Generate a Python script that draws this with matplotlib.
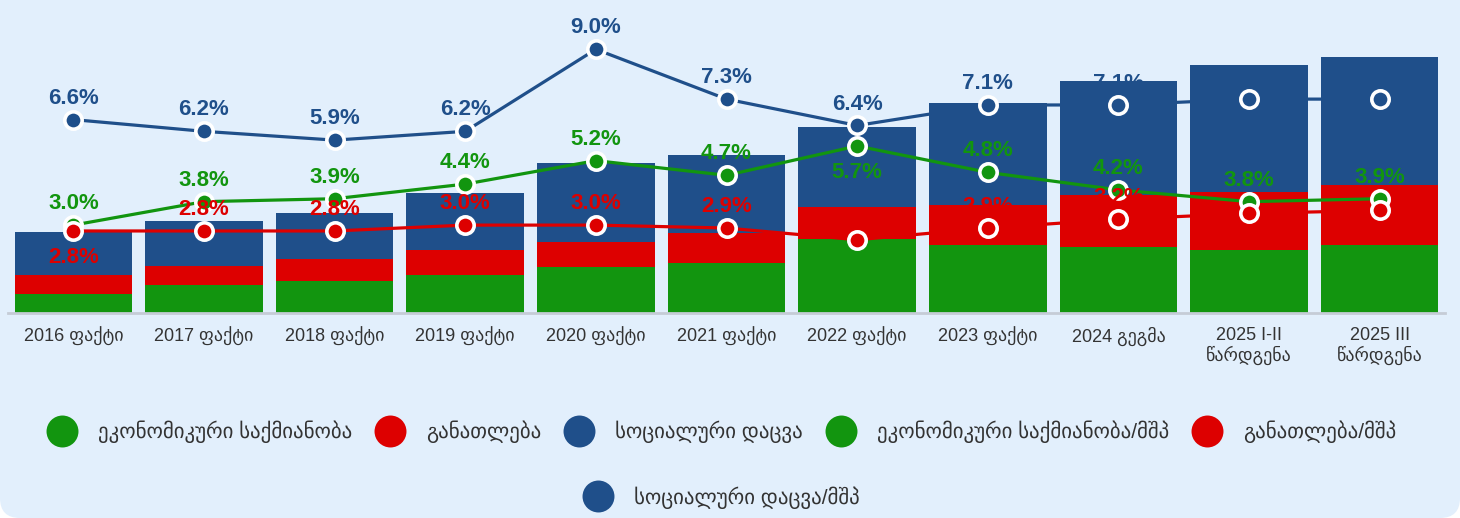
import numpy as np
import matplotlib
matplotlib.use('Agg')
from matplotlib import pyplot as plt
from matplotlib.lines import Line2D
from matplotlib.patches import FancyBboxPatch

plt.rcParams['font.family'] = ['Liberation Sans', 'DejaVu Sans']

# categories
years = ['2016 ფაქტი', '2017 ფაქტი', '2018 ფაქტი', '2019 ფაქტი', '2020 ფაქტი',
         '2021 ფაქტი', '2022 ფაქტი', '2023 ფაქტი', '2024 გეგმა',
         '2025 I-II\nწარდგენა', '2025 III\nწარდგენა']

# spending, mln GEL (stacked bars)
econ = np.array([990, 1410, 1620, 1920, 2330, 2540, 3770, 3460, 3360, 3250, 3460])
edu = np.array([940, 1020, 1130, 1330, 1330, 1540, 1640, 2050, 2660, 2970, 3070])
soc = np.array([2200, 2290, 2390, 2900, 4030, 4030, 4130, 5250, 5870, 6480, 6580])

# share of GDP, %
econ_gdp = [3.0, 3.8, 3.9, 4.4, 5.2, 4.7, 5.7, 4.8, 4.2, 3.8, 3.9]
edu_gdp = [2.8, 2.8, 2.8, 3.0, 3.0, 2.9, 2.5, 2.9, 3.2, 3.4, 3.5]
soc_gdp = [6.6, 6.2, 5.9, 6.2, 9.0, 7.3, 6.4, 7.1, 7.1, 7.3, 7.3]

names = ['ეკონომიკური საქმიანობა', 'განათლება', 'სოციალური დაცვა',
         'ეკონომიკური საქმიანობა/მშპ', 'განათლება/მშპ', 'სოციალური დაცვა/მშპ']

GREEN = '#12950f'
RED = '#dd0000'
BLUE = '#1f4f8a'
TXT = '#333333'

fig = plt.figure(figsize=(14.6, 5.18), dpi=100)
fig.patch.set_facecolor('white')
bg = FancyBboxPatch((0, 0), 14.6, 6.0, boxstyle='round,pad=0,rounding_size=0.2',
                    transform=fig.dpi_scale_trans, facecolor='#e2effc',
                    edgecolor='none', zorder=-10)
fig.add_artist(bg)

ax = fig.add_axes([8 / 1460, 205 / 518, 1437 / 1460, 293 / 518])
ax.set_facecolor('none')
x = np.arange(len(years))
ax.bar(x, econ, width=0.9, color=GREEN, zorder=2)
ax.bar(x, edu, width=0.9, bottom=econ, color=RED, zorder=2)
ax.bar(x, soc, width=0.9, bottom=econ + edu, color=BLUE, zorder=2)
ax.set_xlim(-0.5, len(years) - 0.5)
ax.set_ylim(0, 15000)
ax.set_yticks([])
ax.set_xticks(x, years, fontsize=13, color=TXT, linespacing=1.15)
ax.tick_params(axis='x', length=0, pad=10)
for s in ['left', 'right', 'top']:
    ax.spines[s].set_visible(False)
ax.spines['bottom'].set_color('#c5ccd6')
ax.spines['bottom'].set_linewidth(2)

ax2 = ax.twinx()
ax2.set_ylim(0, 10)
ax2.set_yticks([])
for s in ax2.spines.values():
    s.set_visible(False)

# which labels sit under their point, and which get dropped for overlap
below = {'econ': {6}, 'edu': {0}, 'soc': set()}
hidden = {'econ': set(), 'edu': {9, 10}, 'soc': set()}

series = [('econ', econ_gdp, GREEN), ('edu', edu_gdp, RED), ('soc', soc_gdp, BLUE)]
for key, vals, c in series:
    ax2.plot(x, vals, color=c, lw=2.3, marker='o', ms=12.5, mfc=c, mec='white',
             mew=2.6, zorder=3, clip_on=False)
for key, vals, c in series:
    for i, v in enumerate(vals):
        if i in hidden[key]:
            continue
        dy = -23 if i in below[key] else 11.5
        ax2.annotate(f'{v:.1f}%', (x[i], v), xytext=(0, dy), textcoords='offset points',
                     ha='center', va='baseline', fontsize=16, fontweight='bold',
                     color=c, zorder=5)

colors = [GREEN, RED, BLUE, GREEN, RED, BLUE]
handles = [Line2D([], [], ls='none', marker='o', ms=23, mfc=c, mec='none') for c in colors]

opts = dict(loc='center', frameon=False, fontsize=15, handlelength=1.55,
            handletextpad=0.95, columnspacing=1.05, labelcolor=TXT)
fig.legend(handles[:5], names[:5], ncol=5, bbox_to_anchor=(0.494, 0.166), **opts)
fig.legend(handles[5:], names[5:], ncol=1, bbox_to_anchor=(0.494, 0.04), **opts)

fig.savefig('out.png', dpi=100, facecolor=fig.get_facecolor())
